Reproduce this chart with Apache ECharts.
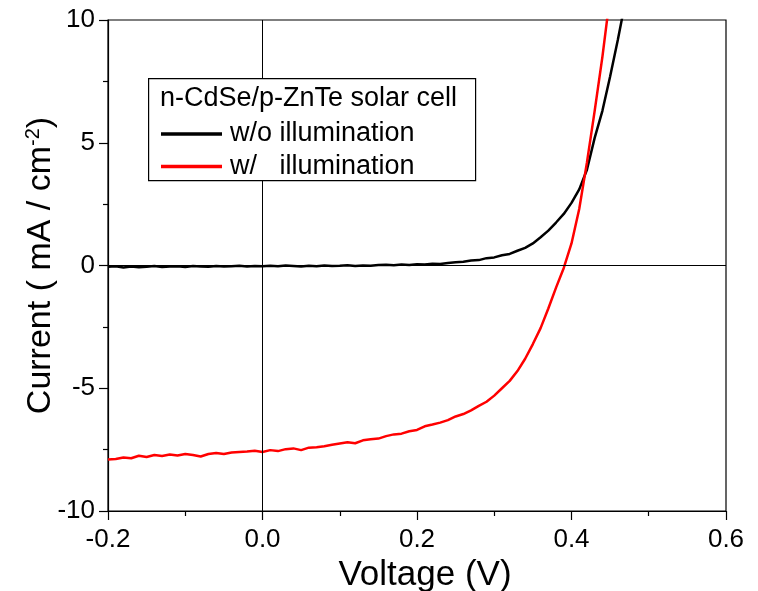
<!DOCTYPE html>
<html>
<head>
<meta charset="utf-8">
<script src="https://cdn.jsdelivr.net/npm/echarts@6/dist/echarts.min.js"></script>
<style>html,body{margin:0;padding:0;background:#fff}#c{width:758px;height:591px}</style>
</head>
<body>
<div id="c"></div>
<script>
var voltage = [-0.20,-0.19,-0.18,-0.17,-0.16,-0.15,-0.14,-0.13,-0.12,-0.11,-0.10,-0.09,-0.08,-0.07,-0.06,-0.05,-0.04,-0.03,-0.02,-0.01,0.00,0.01,0.02,0.03,0.04,0.05,0.06,0.07,0.08,0.09,0.10,0.11,0.12,0.13,0.14,0.15,0.16,0.17,0.18,0.19,0.20,0.21,0.22,0.23,0.24,0.25,0.26,0.27,0.28,0.29,0.30,0.31,0.32,0.33,0.34,0.35,0.36,0.37,0.38,0.39,0.40,0.41,0.42,0.43,0.44,0.45,0.46,0.47];
var darkCurrent = [-0.05,-0.03,-0.08,-0.04,-0.07,-0.05,-0.02,-0.06,-0.04,-0.03,-0.06,-0.02,-0.04,-0.05,-0.02,-0.04,-0.03,-0.01,-0.04,-0.02,-0.03,-0.01,-0.03,0.00,-0.02,-0.04,-0.01,-0.03,0.00,-0.02,-0.01,0.01,-0.02,0.00,-0.01,0.02,0.03,0.01,0.04,0.02,0.05,0.04,0.07,0.06,0.10,0.13,0.15,0.20,0.22,0.30,0.33,0.42,0.47,0.60,0.72,0.90,1.15,1.42,1.75,2.10,2.55,3.10,3.90,5.20,6.30,7.70,9.20,10.8];
var lightCurrent = [-7.90,-7.88,-7.82,-7.85,-7.75,-7.80,-7.72,-7.76,-7.70,-7.74,-7.68,-7.72,-7.78,-7.68,-7.64,-7.68,-7.62,-7.60,-7.58,-7.55,-7.60,-7.52,-7.56,-7.48,-7.45,-7.52,-7.42,-7.40,-7.36,-7.30,-7.25,-7.20,-7.24,-7.12,-7.08,-7.05,-6.95,-6.88,-6.85,-6.75,-6.70,-6.55,-6.48,-6.40,-6.30,-6.15,-6.05,-5.90,-5.72,-5.55,-5.30,-5.00,-4.70,-4.30,-3.80,-3.20,-2.55,-1.75,-0.90,-0.10,0.90,2.30,4.20,6.30,8.50,11.0];
var seriesNames = ['w/o illumination', 'w/   illumination'];
var legendTitle = 'n-CdSe/p-ZnTe solar cell';
var xTicks = [-0.2, 0.0, 0.2, 0.4, 0.6];
var yTicks = [-10, -5, 0, 5, 10];

function pairs(ys) {
  var out = [];
  for (var i = 0; i < ys.length; i++) out.push([voltage[i], ys[i]]);
  return out;
}

var font = '"Liberation Sans", Arial, sans-serif';
var chart = echarts.init(document.getElementById('c'));
chart.setOption({
  animation: false,
  backgroundColor: '#fff',
  grid: { left: 108, right: 32, top: 20, bottom: 80, show: true, borderColor: '#000', borderWidth: 1.2,
    containLabel: false, outerBoundsMode: 'none' },
  xAxis: {
    type: 'value', min: -0.2, max: 0.6, interval: 0.2,
    name: 'Voltage (V)', nameLocation: 'middle', nameGap: 47,
    nameTextStyle: { fontFamily: font, fontSize: 35, color: '#000', padding: [0, 0, 0, 16] },
    axisLine: { show: true, onZero: false, lineStyle: { color: '#000', width: 1.2 } },
    axisTick: { show: true, inside: false, length: 9, lineStyle: { color: '#000', width: 1.2 } },
    minorTick: { show: true, splitNumber: 2, length: 5, lineStyle: { color: '#000', width: 1.2 } },
    splitLine: { show: false },
    axisLabel: { fontFamily: font, fontSize: 26, color: '#000', margin: 16,
      formatter: function (v) { var r = Math.round(v * 10) / 10; return xTicks.indexOf(r) >= 0 ? r.toFixed(1) : ''; } }
  },
  yAxis: {
    type: 'value', min: -10, max: 10, interval: 5,
    name: '{a|Current ( mA / cm}{s|-2}{a|)}', nameLocation: 'middle', nameGap: 50, nameMoveOverlap: false,
    nameTextStyle: { fontFamily: font, fontSize: 34, color: '#000',
      rich: { a: { fontFamily: font, fontSize: 34, color: '#000' }, s: { fontFamily: font, fontSize: 20, color: '#000', verticalAlign: 'top', padding: [0, 0, 15, 0] } } },
    axisLine: { show: true, onZero: false, lineStyle: { color: '#000', width: 1.2 } },
    axisTick: { show: true, inside: false, length: 9, lineStyle: { color: '#000', width: 1.2 } },
    minorTick: { show: true, splitNumber: 2, length: 5, lineStyle: { color: '#000', width: 1.2 } },
    splitLine: { show: false },
    axisLabel: { fontFamily: font, fontSize: 26, color: '#000', margin: 13,
      formatter: function (v) { return yTicks.indexOf(v) >= 0 ? String(v) : ''; } }
  },
  legend: {
    orient: 'vertical', left: 161, top: 119, itemGap: 2.6, padding: 0, z: 60,
    itemWidth: 61, itemHeight: 3.5, icon: 'rect',
    textStyle: { fontFamily: font, fontSize: 27, color: '#000', lineHeight: 30, padding: [0, 0, 0, 3] },
    data: seriesNames
  },
  graphic: [
    { type: 'rect', left: 148, top: 78, z: 50,
      shape: { width: 327, height: 102 }, style: { fill: '#fff', stroke: '#000', lineWidth: 1.2 } },
    { type: 'text', left: 160, top: 85, z: 61,
      style: { text: legendTitle, fontFamily: font, fontSize: 27, fill: '#000' } }
  ],
  series: [
    { name: seriesNames[0], type: 'line', data: pairs(darkCurrent), showSymbol: false, smooth: false,
      lineStyle: { color: '#000', width: 2.5 }, itemStyle: { color: '#000' },
      markLine: { silent: true, symbol: 'none', label: { show: false },
        lineStyle: { color: '#000', width: 1, type: 'solid' },
        data: [{ xAxis: 0 }, { yAxis: 0 }] } },
    { name: seriesNames[1], type: 'line', data: pairs(lightCurrent), showSymbol: false, smooth: false,
      lineStyle: { color: '#ff0000', width: 2.5 }, itemStyle: { color: '#ff0000' } }
  ]
});
</script>
</body>
</html>
